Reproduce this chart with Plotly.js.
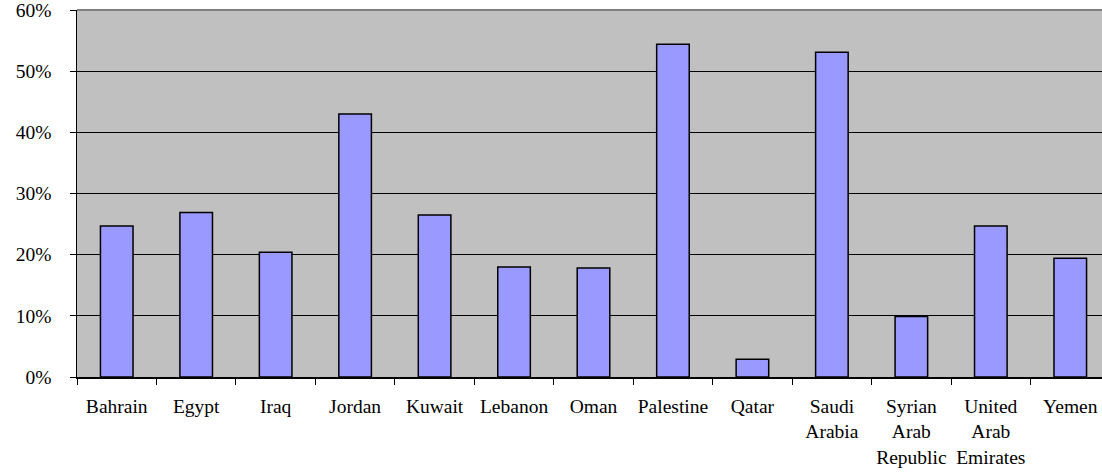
<!DOCTYPE html>
<html>
<head>
<meta charset="utf-8">
<script src="https://cdn.plot.ly/plotly-3.0.1.min.js"></script>
<style>
  html, body { margin: 0; padding: 0; background: #fff; overflow: hidden; }
  #chart { width: 1110px; height: 472px; }
</style>
</head>
<body>
<div id="chart"></div>
<script>
// Countries along the category axis
const countries = [
  "Bahrain", "Egypt", "Iraq", "Jordan", "Kuwait", "Lebanon", "Oman",
  "Palestine", "Qatar", "Saudi<br>Arabia", "Syrian<br>Arab<br>Republic",
  "United<br>Arab<br>Emirates", "Yemen"
];

// Share per country (fraction)
const shares = [
  0.247, 0.269, 0.204, 0.430, 0.265, 0.180, 0.178,
  0.544, 0.029, 0.531, 0.099, 0.247, 0.194
];

// Y axis ticks
const yTicks = [0, 0.1, 0.2, 0.3, 0.4, 0.5, 0.6];
const yTickLabels = ["0%", "10%", "20%", "30%", "40%", "50%", "60%"];

const serif = "Liberation Serif, Times New Roman, serif";

const trace = {
  type: "bar",
  x: countries,
  y: shares,
  width: 0.41,
  marker: {
    color: "#9999FF",
    line: { color: "#000000", width: 1.5 }
  },
  hoverinfo: "none"
};

const layout = {
  width: 1110,
  height: 472,
  margin: { l: 77, r: 0, t: 10, b: 95, pad: 0 },
  paper_bgcolor: "#ffffff",
  plot_bgcolor: "#C0C0C0",
  showlegend: false,
  font: { family: serif, size: 19.5, color: "#000000" },
  xaxis: {
    type: "category",
    tickson: "boundaries",
    ticks: "outside",
    ticklen: 6,
    tickcolor: "#000000",
    tickwidth: 1,
    showline: true,
    linecolor: "#000000",
    linewidth: 1.5,
    showgrid: false,
    tickangle: 0,
    ticklabelstandoff: 11,
    tickfont: { family: serif, size: 19.5, color: "#000000" },
    automargin: false
  },
  yaxis: {
    range: [0, 0.6],
    tickvals: yTicks,
    ticktext: yTickLabels,
    ticks: "outside",
    ticklen: 6,
    tickcolor: "#000000",
    tickwidth: 1,
    showline: true,
    linecolor: "#000000",
    linewidth: 1.5,
    showgrid: true,
    gridcolor: "#000000",
    gridwidth: 1,
    zeroline: false,
    ticklabelstandoff: 14,
    ticklabeloverflow: "allow",
    tickfont: { family: serif, size: 19.5, color: "#000000" },
    automargin: false
  },
  shapes: [
    {
      type: "line", xref: "paper", yref: "paper",
      x0: 0, x1: 1, y0: 1, y1: 1,
      line: { color: "#808080", width: 2 }
    }
  ]
};

Plotly.newPlot("chart", [trace], layout, { displayModeBar: false, staticPlot: true });
</script>
</body>
</html>
